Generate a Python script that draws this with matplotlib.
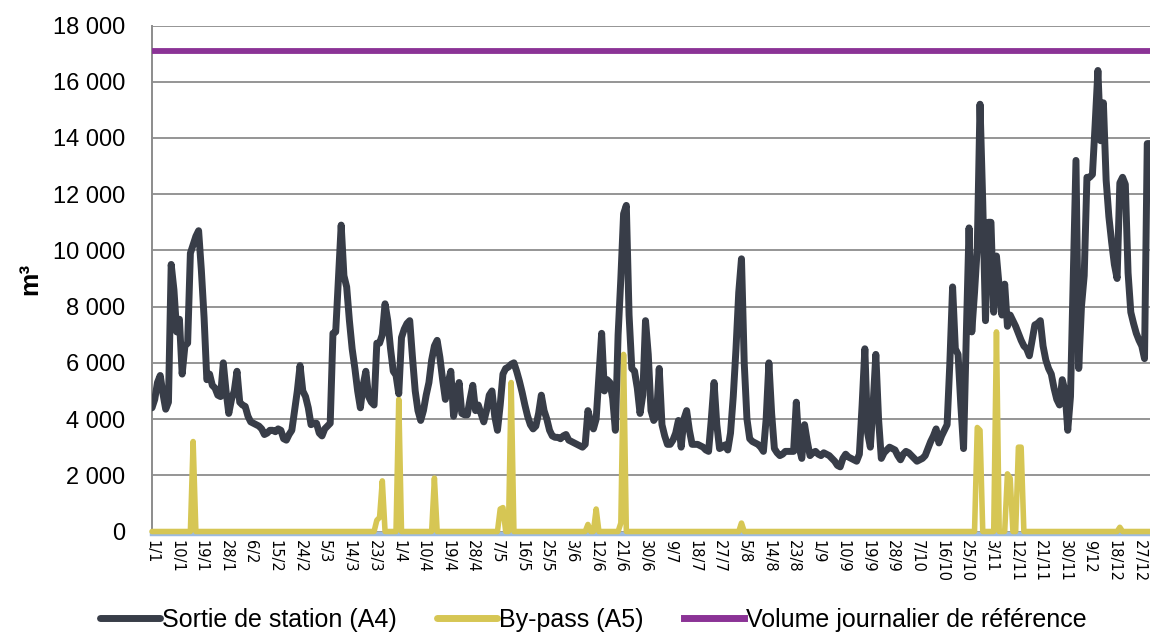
import matplotlib
matplotlib.use("Agg")
import matplotlib.pyplot as plt
import numpy as np

# ---- data (daily volumes, m3) ----
a4_jan = [4400, 4700, 5300, 5550, 4900, 4350, 4600, 9500, 8600, 7100,
          7550, 5600, 6600, 6700, 9900, 10200, 10500, 10700, 9300, 7600,
          5400, 5600, 5200, 5100, 4850, 4800, 6000, 5000, 4200, 4700, 5000]
a4_feb = [5700, 4600, 4500, 4450, 4100, 3900, 3850, 3800, 3750, 3650,
          3450, 3500, 3600, 3600, 3550, 3650, 3600, 3300, 3250, 3450,
          3600, 4300, 5000, 5900, 5000, 4800, 4400, 3800]
a4_mar = [3850, 3850, 3500, 3400, 3650, 3750, 3850, 7050, 7100, 9000,
          10900, 9100, 8700, 7500, 6500, 5800, 5000, 4400, 5200, 5700,
          4800, 4600, 4500, 6700, 6700, 7000, 8100, 7500, 6500, 5700, 5560]
a4_apr = [4900, 6900, 7200, 7400, 7500, 6200, 5000, 4300, 3950, 4300,
          4850, 5300, 6100, 6600, 6800, 6200, 5400, 4700, 5300, 5700,
          4100, 4600, 5300, 4200, 4150, 4150, 4700, 5200, 4300, 4500]
a4_may = [4200, 3900, 4300, 4850, 5000, 4100, 3600, 4500, 5600, 5800,
          5850, 5950, 6000, 5700, 5350, 4950, 4500, 4100, 3800, 3650,
          3750, 4200, 4850, 4300, 4000, 3600, 3400, 3350, 3350, 3300, 3400]
a4_jun = [3450, 3250, 3200, 3150, 3100, 3050, 3000, 3100, 4300, 3900,
          3650, 4000, 5500, 7050, 5000, 5400, 5300, 4750, 3600, 7000,
          9000, 11300, 11600, 7700, 5800, 5700, 5100, 4200, 4850, 7500]
a4_jul = [6300, 4300, 3950, 4100, 5800, 3800, 3400, 3100, 3100, 3250,
          3500, 3950, 3000, 4000, 4300, 3600, 3100, 3100, 3100, 3050,
          3000, 2900, 2850, 4000, 5300, 3800, 2950, 3000, 3080, 2900, 3500]
a4_aug = [4800, 6500, 8500, 9700, 6000, 4000, 3300, 3200, 3150, 3100,
          3000, 2850, 4000, 6000, 4200, 2950, 2800, 2700, 2750, 2850,
          2850, 2850, 2850, 4600, 3000, 2600, 3800, 3200, 2700, 2800, 2850]
a4_sep = [2750, 2700, 2800, 2750, 2700, 2600, 2500, 2350, 2300, 2600,
          2750, 2650, 2600, 2550, 2500, 2750, 4500, 6500, 3500, 3000,
          4500, 6300, 4000, 2600, 2800, 2900, 3000, 2950, 2900, 2700]
a4_oct = [2550, 2750, 2850, 2800, 2700, 2600, 2500, 2550, 2600, 2700,
          2950, 3200, 3400, 3650, 3150, 3400, 3600, 3800, 6000, 8700,
          6500, 6300, 4500, 2950, 7000, 10800, 7100, 8500, 10100, 15200, 11700]
a4_nov = [7500, 11000, 11000, 7800, 9800, 8700, 7700, 8800, 7300, 7700,
          7500, 7300, 7050, 6800, 6600, 6500, 6250, 6800, 7350, 7400,
          7500, 6600, 6100, 5800, 5600, 5100, 4700, 4500, 5400, 5000]
a4_dec = [3600, 4800, 9000, 13200, 5800, 8000, 9100, 12600, 12600, 12700,
          14500, 16400, 13900, 15250, 12500, 11200, 10300, 9500, 9000, 12400,
          12600, 12350, 9200, 7800, 7400, 7050, 6800, 6600, 6150, 13800, 13800]

a5_jan = [0, 0, 0, 0, 0, 0, 0, 0, 0, 0, 0, 0, 0, 0, 0, 3200, 0, 0, 0, 0,
          0, 0, 0, 0, 0, 0, 0, 0, 0, 0, 0]
a5_feb = [0] * 28
a5_mar = [0, 0, 0, 0, 0, 0, 0, 0, 0, 0, 0, 0, 0, 0, 0, 0, 0, 0, 0, 0,
          0, 0, 0, 400, 500, 1800, 0, 0, 0, 0, 0]
a5_apr = [4700, 0, 0, 0, 0, 0, 0, 0, 0, 0, 0, 0, 0, 1900, 0, 0, 0, 0, 0, 0,
          0, 0, 0, 0, 0, 0, 0, 0, 0, 0]
a5_may = [0, 0, 0, 0, 0, 0, 0, 800, 850, 0, 0, 5300, 0, 0, 0, 0, 0, 0, 0, 0,
          0, 0, 0, 0, 0, 0, 0, 0, 0, 0, 0]
a5_jun = [0, 0, 0, 0, 0, 0, 0, 0, 250, 0, 0, 800, 0, 0, 0, 0, 0, 0, 0, 0,
          300, 6300, 0, 0, 0, 0, 0, 0, 0, 0]
a5_jul = [0] * 31
a5_aug = [0, 0, 0, 300, 0, 0, 0, 0, 0, 0, 0, 0, 0, 0, 0, 0, 0, 0, 0, 0,
          0, 0, 0, 0, 0, 0, 0, 0, 0, 0, 0]
a5_sep = [0] * 30
a5_oct = [0, 0, 0, 0, 0, 0, 0, 0, 0, 0, 0, 0, 0, 0, 0, 0, 0, 0, 0, 0,
          0, 0, 0, 0, 0, 0, 0, 0, 3700, 3600, 0]
a5_nov = [0, 0, 0, 0, 7100, 0, 0, 0, 2050, 1900, 0, 0, 3000, 3000, 0, 0, 0, 0, 0, 0,
          0, 0, 0, 0, 0, 0, 0, 0, 0, 0]
a5_dec = [0, 0, 0, 0, 0, 0, 0, 0, 0, 0, 0, 0, 0, 0, 0, 0, 0, 0, 0, 150,
          0, 0, 0, 0, 0, 0, 0, 0, 0, 0, 0]

reference_volume = 17100

tick_labels = ["1/1", "10/1", "19/1", "28/1", "6/2", "15/2", "24/2", "5/3", "14/3",
               "23/3", "1/4", "10/4", "19/4", "28/4", "7/5", "16/5", "25/5", "3/6",
               "12/6", "21/6", "30/6", "9/7", "18/7", "27/7", "5/8", "14/8", "23/8",
               "1/9", "10/9", "19/9", "28/9", "7/10", "16/10", "25/10", "3/11",
               "12/11", "21/11", "30/11", "9/12", "18/12", "27/12"]
tick_step_days = 9

y_ticks = [0, 2000, 4000, 6000, 8000, 10000, 12000, 14000, 16000, 18000]

a4 = np.array(a4_jan + a4_feb + a4_mar + a4_apr + a4_may + a4_jun +
              a4_jul + a4_aug + a4_sep + a4_oct + a4_nov + a4_dec, dtype=float)
a5 = np.array(a5_jan + a5_feb + a5_mar + a5_apr + a5_may + a5_jun +
              a5_jul + a5_aug + a5_sep + a5_oct + a5_nov + a5_dec, dtype=float)
days = np.arange(len(a4))

# ---- style ----
C_A4 = "#383d48"
C_A5 = "#d6c654"
C_REF = "#8b3396"
C_AXIS = "#9dbbe0"
C_GRID = "#8c8c8c"

fig = plt.figure(figsize=(11.5, 6.33), dpi=100)
ax = fig.add_axes([152 / 1150, 1 - 531.5 / 633, 1 - 152 / 1150, 506 / 633])

ax.set_xlim(0, len(days) - 1)
ax.set_ylim(0, 18000)

for yv in y_ticks:
    ax.axhline(yv, color=C_GRID, lw=1.3, zorder=1)

l1, = ax.plot(days, a4, color=C_A4, lw=5.0, solid_joinstyle="round",
              solid_capstyle="round", zorder=4, label="Sortie de station (A4)")
l2, = ax.plot(days, a5, color=C_A5, lw=4.0, solid_joinstyle="round",
              solid_capstyle="round", zorder=3, clip_on=False,
              label="By-pass (A5)")
l3 = ax.axhline(reference_volume, color=C_REF, lw=4.2, zorder=3,
                label="Volume journalier de référence")

for s in ["top", "right"]:
    ax.spines[s].set_visible(False)
ax.spines["left"].set_color(C_GRID)
ax.spines["left"].set_linewidth(1.4)
ax.spines["bottom"].set_color(C_AXIS)
ax.spines["bottom"].set_linewidth(3.2)
ax.spines["bottom"].set_position(("outward", 2))
ax.spines["bottom"].set_zorder(2)

ax.set_yticks(y_ticks)
ax.set_yticklabels([f"{v:,}".replace(",", " ") for v in y_ticks],
                   family="Liberation Sans", fontsize=17)
ax.tick_params(axis="y", length=0, pad=19)

ax.set_xticks(days[::tick_step_days][:len(tick_labels)])
ax.set_xticklabels(tick_labels, rotation=270, family="Liberation Sans Narrow",
                   fontsize=10.5, ha="center", va="top")
ax.tick_params(axis="x", length=0, pad=4)

ax.set_ylabel("m³", family="Liberation Sans", fontsize=19, fontweight="bold",
              labelpad=8)

leg = fig.legend(handles=[l1, l2, l3], loc="center", ncol=3,
                 bbox_to_anchor=(0.516, 0.021), frameon=False,
                 prop={"family": "Liberation Sans", "size": 18},
                 handlelength=2.4, handletextpad=0.1, columnspacing=1.6)
for h in leg.get_lines():
    h.set_linewidth(5)

fig.savefig("out.png", dpi=100)
